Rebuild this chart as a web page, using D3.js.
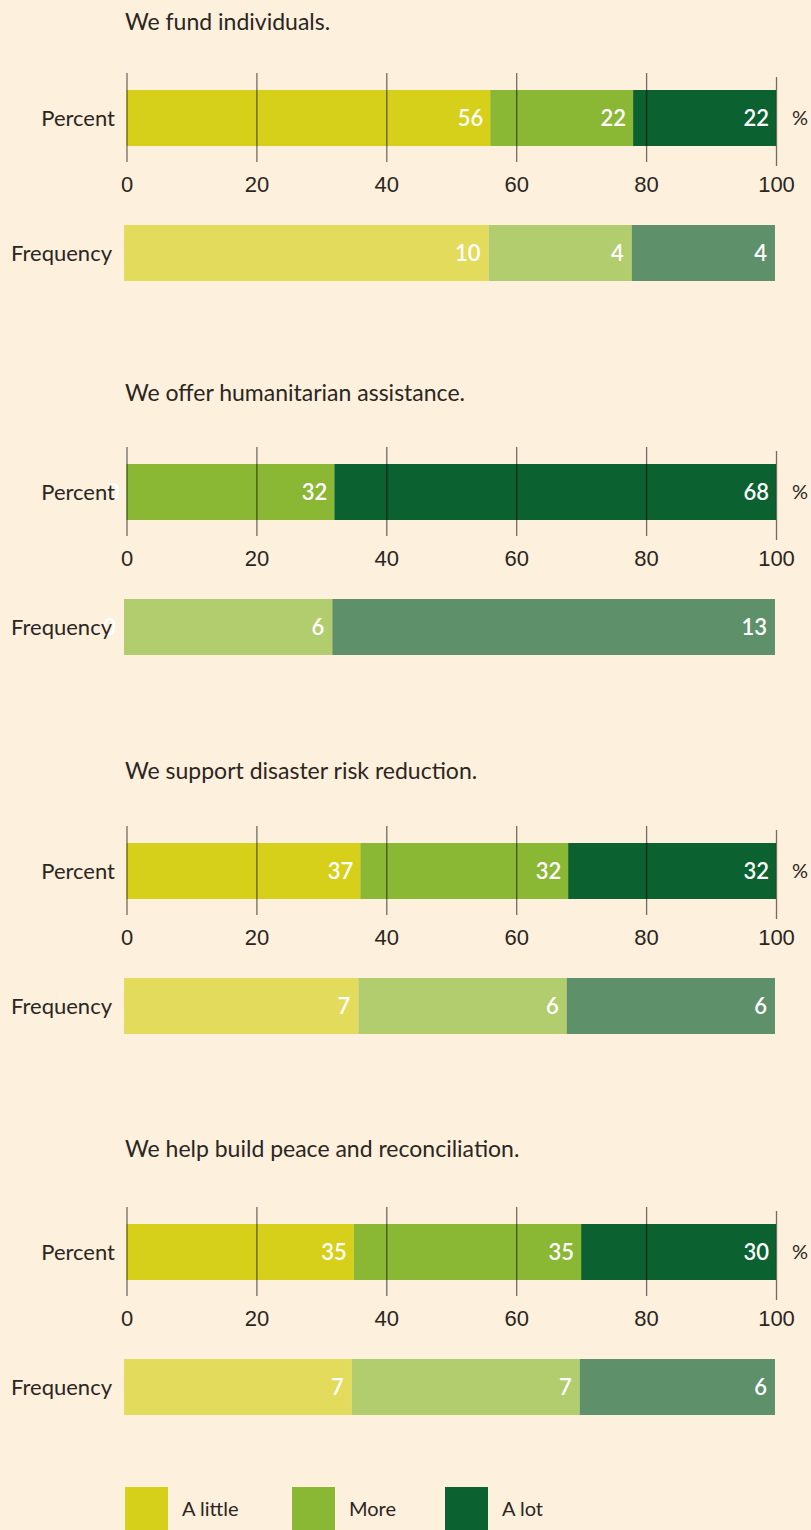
<!DOCTYPE html>
<html>
<head>
<meta charset="utf-8">
<script src="https://cdn.jsdelivr.net/npm/d3@7"></script>
<style>
  body { margin: 0; background: #fdf0dc; }
  svg { display: block; font-family: Lato, "Open Sans", sans-serif; }
  .tick line { stroke: #000; stroke-opacity: 0.55; stroke-width: 1.3; }
  .tick text { fill: #2b2622; font-size: 22px; }
</style>
</head>
<body>
<svg id="chart"></svg>
<script>
// chart data
var titles = [
  "We fund individuals.",
  "We offer humanitarian assistance.",
  "We support disaster risk reduction.",
  "We help build peace and reconciliation."
];
var categories = ["A little", "More", "A lot"];
var percentValues = [[56, 22, 22], [0, 32, 68], [36, 32, 32], [35, 35, 30]];
var percentLabels = [["56", "22", "22"], ["0", "32", "68"], ["37", "32", "32"], ["35", "35", "30"]];
var frequencyValues = [[10, 4, 4], [0, 6, 13], [7, 6, 6], [7, 7, 6]];
var tickValues = [0, 20, 40, 60, 80, 100];
var rowLabels = ["Percent", "Frequency"];

// layout
var width = 811, height = 1530;
var panelTops = [90, 464, 843, 1224];
var titleOffsets = [-68, -71, -72, -75];
var barH = 56;

var colorStrong = d3.scaleOrdinal().domain(categories).range(["#d6d01b", "#8bb834", "#0b612f"]);
var colorLight = d3.scaleOrdinal().domain(categories).range(["#e2db5c", "#b2cd6e", "#5e916a"]);

var x = d3.scaleLinear().domain([0, 100]).range([126.5, 776]);
var xf = d3.scaleLinear().domain([0, 100]).range([124, 775]);

var svg = d3.select("#chart").attr("width", width).attr("height", height);
svg.append("rect").attr("width", width).attr("height", height).attr("fill", "#fdf0dc");

function stackRow(vals) {
  var acc = 0;
  return vals.map(function(v, i) {
    var d = {cat: categories[i], x0: acc, x1: acc + v};
    acc += v;
    return d;
  });
}

titles.forEach(function(title, p) {
  var g = svg.append("g").attr("transform", "translate(0," + panelTops[p] + ")");

  g.append("text")
    .attr("x", 125).attr("y", titleOffsets[p])
    .attr("dy", "0.35em")
    .attr("font-size", 23).attr("fill", "#2b2622")
    .text(title);

  var pr = stackRow(percentValues[p]);

  // percent bar
  g.selectAll(".pbar").data(pr).enter().append("rect")
    .attr("class", "pbar")
    .attr("x", function(d) { return x(d.x0); })
    .attr("y", 0)
    .attr("width", function(d) { return x(d.x1) - x(d.x0); })
    .attr("height", barH)
    .attr("fill", function(d) { return colorStrong(d.cat); });

  // gridlines + tick labels
  var axis = d3.axisBottom(x).tickValues(tickValues).tickSize(-(barH + 33)).tickPadding(14);
  var ag = g.append("g").attr("transform", "translate(0," + (barH + 16) + ")").call(axis);
  ag.select(".domain").remove();
  ag.selectAll(".tick text").attr("font-family", null).attr("font-size", null).attr("fill", null);
  // the 100 line sits a little lower in the original
  ag.selectAll(".tick line").filter(function(d) { return d === 100; })
    .attr("transform", "translate(0,4)");

  g.selectAll(".plab").data(pr).enter().append("text")
    .attr("x", function(d) { return x(d.x1) - 7; })
    .attr("y", barH / 2).attr("dy", "0.35em")
    .attr("text-anchor", "end")
    .attr("font-size", 22).attr("font-weight", 600).attr("fill", "#fff")
    .text(function(d, i) { return percentLabels[p][i]; });

  g.append("text")
    .attr("x", 792).attr("y", barH / 2).attr("dy", "0.35em")
    .attr("font-size", 20).attr("fill", "#2b2622")
    .text("%");

  // frequency bar, same segment widths as the percent bar
  var fg = g.append("g").attr("transform", "translate(0,135)");
  fg.selectAll(".fbar").data(pr).enter().append("rect")
    .attr("x", function(d) { return xf(d.x0); })
    .attr("y", 0)
    .attr("width", function(d) { return xf(d.x1) - xf(d.x0); })
    .attr("height", barH)
    .attr("fill", function(d) { return colorLight(d.cat); });

  fg.selectAll(".flab").data(pr).enter().append("text")
    .attr("x", function(d) { return xf(d.x1) - 8; })
    .attr("y", barH / 2).attr("dy", "0.35em")
    .attr("text-anchor", "end")
    .attr("font-size", 22).attr("font-weight", 600).attr("fill", "#fff")
    .text(function(d, i) { return frequencyValues[p][i]; });

  g.append("text")
    .attr("x", 115).attr("y", barH / 2).attr("dy", "0.35em")
    .attr("text-anchor", "end").attr("font-size", 22).attr("fill", "#2b2622")
    .text(rowLabels[0]);
  fg.append("text")
    .attr("x", 112).attr("y", barH / 2).attr("dy", "0.35em")
    .attr("text-anchor", "end").attr("font-size", 22).attr("fill", "#2b2622")
    .text(rowLabels[1]);
});

// legend
var legendX = [125, 292, 445];
var lg = svg.append("g").attr("transform", "translate(0,1487)");
var items = lg.selectAll("g").data(categories).enter().append("g")
  .attr("transform", function(d, i) { return "translate(" + legendX[i] + ",0)"; });
items.append("rect").attr("width", 43).attr("height", 45)
  .attr("fill", function(d) { return colorStrong(d); });
items.append("text").attr("x", 57).attr("y", 22).attr("dy", "0.35em")
  .attr("font-size", 20).attr("fill", "#2b2622")
  .text(function(d) { return d; });
</script>
</body>
</html>
